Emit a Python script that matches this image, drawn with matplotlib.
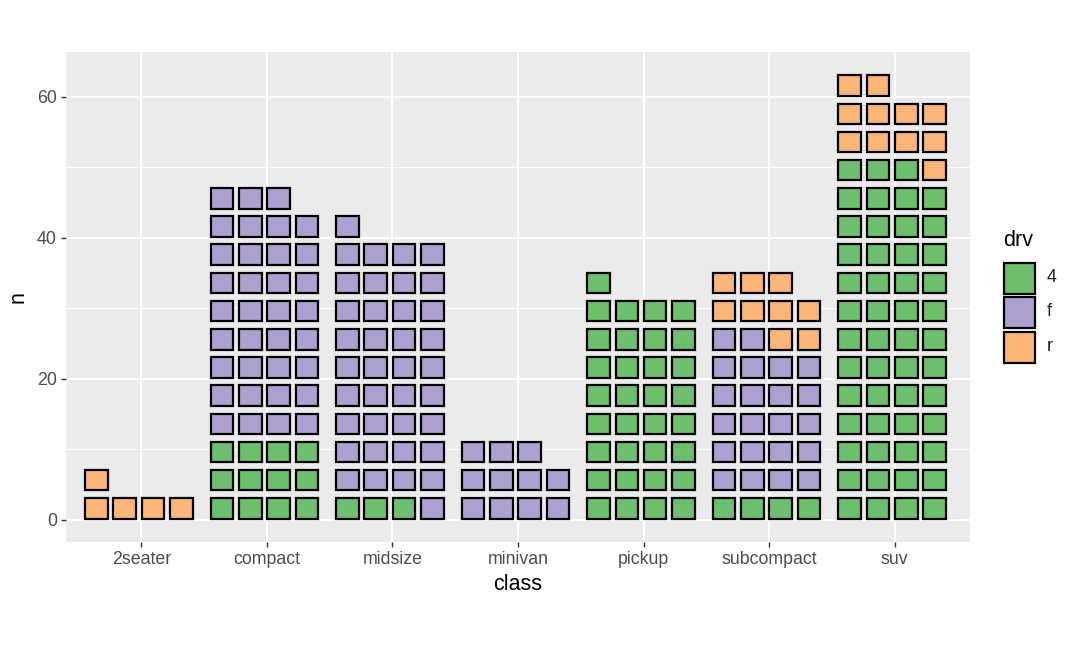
import numpy as np
import matplotlib
matplotlib.use('Agg')
import matplotlib.pyplot as plt
from matplotlib.patches import Rectangle

plt.rcParams['font.family'] = ['Liberation Sans', 'DejaVu Sans']

# data: mpg counts by class and drv
classes = ['2seater', 'compact', 'midsize', 'minivan', 'pickup', 'subcompact', 'suv']
n_4 = [0, 12, 3, 0, 33, 4, 51]
n_f = [0, 35, 38, 11, 0, 22, 0]
n_r = [5, 0, 0, 0, 0, 9, 11]
drv_levels = ['4', 'f', 'r']
drv_colors = ['#6dbf6d', '#ad9fcf', '#fbb677']
y_ticks = [0, 20, 40, 60]

n_rows = 4          # tiles per row
row_step = 4        # units of n per row
tile_h = 2.9
tile_w = 0.180
col_step = 0.2254
x_shift = -0.02
lw = 1.6

fig = plt.figure(figsize=(10.8, 6.47), dpi=100)
ax = fig.add_axes([66/1080, 1 - 542/647, (970-66)/1080, (542-52)/647])
ax.set_facecolor('#ebebeb')
for s in ax.spines.values():
    s.set_visible(False)

counts = [n_4, n_f, n_r]
max_row = 0
for i, cl in enumerate(classes):
    k = 0
    for d in range(3):
        for _ in range(counts[d][i]):
            r, c = divmod(k, n_rows)
            xc = i + x_shift + (c - 1.5) * col_step
            yc = r * row_step + 1.6
            ax.add_patch(Rectangle((xc - tile_w/2, yc - tile_h/2), tile_w, tile_h,
                                   facecolor=drv_colors[d], edgecolor='black',
                                   linewidth=lw, zorder=3))
            max_row = max(max_row, r)
            k += 1

ymax = max_row * row_step + 3.2
pad = ymax * 0.05
ax.set_ylim(-pad, ymax + pad)
ax.set_xlim(-0.6, len(classes) - 0.4)

ax.set_yticks(y_ticks)
ax.set_yticks([10, 30, 50], minor=True)
ax.set_xticks(range(len(classes)))
ax.set_xticklabels(classes)
ax.grid(which='major', color='white', linewidth=1.4, zorder=0)
ax.grid(which='minor', axis='y', color='white', linewidth=0.7, zorder=0)
ax.set_axisbelow(True)
ax.tick_params(which='major', length=3.5, width=1, color='#333333',
               labelcolor='#4d4d4d', labelsize=12.8, pad=3)
ax.tick_params(which='minor', length=0)
ax.set_xlabel('class', fontsize=15.5, labelpad=4)
ax.set_ylabel('n', fontsize=15.5, labelpad=6)

# legend
fig.text(1003/1080, 1 - 241/647, 'drv', fontsize=15.5, va='center', ha='left')
key_tops = [261, 295, 330]
for t, lab, col in zip(key_tops, drv_levels, drv_colors):
    fig.patches.append(Rectangle((1004/1080, 1 - (t + 33)/647), 31/1080, 31/647,
                                 transform=fig.transFigure, facecolor=col,
                                 edgecolor='black', linewidth=lw))
    fig.text(1047/1080, 1 - (t + 17)/647, lab, fontsize=12.8, va='center',
             ha='left', color='#1a1a1a')

plt.savefig('out.png', dpi=100)
